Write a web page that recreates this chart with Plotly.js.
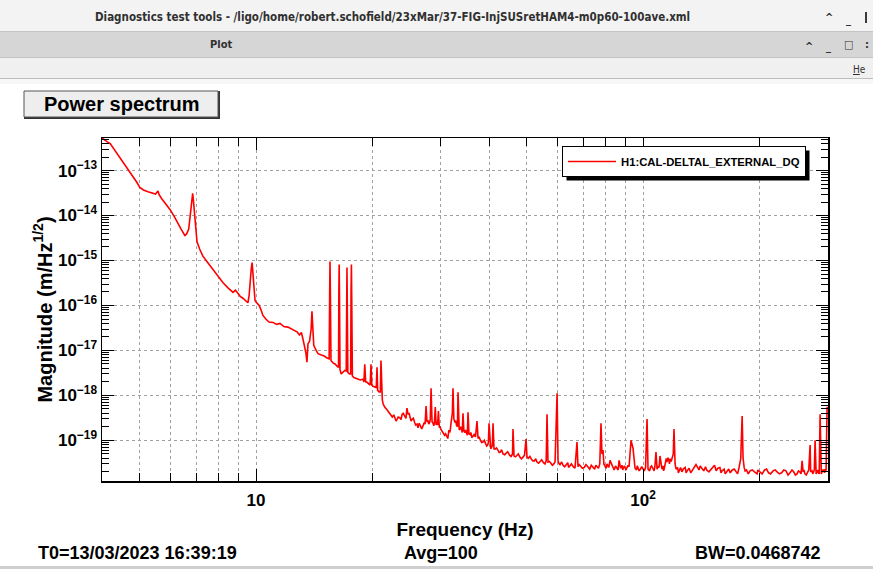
<!DOCTYPE html>
<html><head><meta charset="utf-8">
<script src="https://cdn.plot.ly/plotly-3.0.1.min.js"></script>
<style>html,body{margin:0;padding:0;background:#fff;overflow:hidden}#chart{width:873px;height:569px}</style>
</head><body><div id="chart"></div>
<script>
// ---------------- data ----------------
const traceName = 'H1:CAL-DELTAL_EXTERNAL_DQ';
// main outline of the spectrum (baseline and lines)
const freqHz = [
 4.00,4.05,4.12,4.20,4.30,4.40,4.53,4.65,4.80,4.92,
 5.01,5.12,5.26,5.39,5.50,5.58,5.62,5.70,5.85,6.00,
 6.15,6.29,6.42,6.55,6.62,6.70,6.76,6.82,6.86,6.89,
 6.93,6.97,7.04,7.15,7.29,7.50,7.74,8.00,8.22,8.45,
 8.72,8.85,8.98,9.10,9.25,9.40,9.53,9.60,9.66,9.72,
 9.77,9.82,9.88,9.94,10.0,10.1,10.19,10.30,10.42,10.6,
 10.8,11.06,11.3,11.53,11.8,12.09,12.4,12.76,12.95,13.10,
 13.22,13.35,13.45,13.54,13.62,13.75,13.88,13.95,14.02,14.1,
 14.3,14.46,14.7,15.0,15.26,15.45,15.50,15.53,15.57,15.62,
 15.81,16.0,16.19,16.34,16.37,16.40,16.44,16.48,16.6,16.78,
 16.95,17.10,17.14,17.18,17.22,17.27,17.45,17.56,17.60,17.64,
 17.68,17.74,17.9,18.1,18.34,18.6,18.9,19.0,19.10,19.20,
 19.36,19.55,19.72,19.82,19.92,20.06,20.3,20.45,20.54,20.62,
 20.8,20.95,21.03,21.10,21.2,21.3,21.5,21.8,22.2,22.5,
 22.86,23.13,23.5,23.84,24.2,24.55,24.7,25.0,25.29,25.7,
 26.06,26.21,26.6,27.0,27.34,27.5,27.65,27.83,28.1,28.33,
 28.5,28.67,28.9,29.05,29.2,29.45,29.6,29.75,30.0,30.24,
 30.7,31.15,31.5,31.9,32.15,32.28,32.45,32.66,32.95,33.15,
 33.26,33.4,33.65,34.0,34.26,34.45,34.67,35.0,35.3,35.5,
 35.72,36.3,36.9,37.24,37.47,38.0,38.59,39.2,39.7,40.0,
 40.24,40.6,40.96,41.2,41.46,42.2,42.8,43.47,44.3,45.2,
 46.13,46.41,47.2,48.1,49.0,49.85,50.13,51.5,52.4,53.2,
 54.2,55.3,56.48,56.8,57.8,58.8,59.24,59.96,60.3,61.0,
 62.14,63.4,64.75,66.0,67.5,67.9,69.0,70.5,72.0,74.25,
 76.0,77.3,77.87,78.3,78.8,79.2,79.74,81.0,82.16,83.5,
 85.66,86.7,87.5,89.0,90.9,92.0,93.1,94.2,94.8,95.35,
 97.0,98.5,100.0,101.5,102.4,103.0,104.5,106.0,108.0,108.7,
 110.0,110.6,111.9,113.5,114.8,116.0,117.5,118.8,119.7,120.2,
 121.0,121.7,124.0,127.0,130.0,134.6,138.0,142.0,146.0,151.6,
 156.0,160.0,164.8,170.0,174.0,177.0,178.8,180.3,181.3,182.5,
 185.0,189.0,194.0,200.6,206.0,211.0,216.7,222.0,228.0,234.0,
 239.8,245.0,250.0,254.0,257.6,259.1,262.0,266.0,270.2,271.0,
 273.3,276.0,278.3,279.0,281.6,284.0,286.7,287.5,290.1,293.0,
 296.0,297.1,298.9,300.0
];
const magnitude = [
 5.3e-13,4.8e-13,4.4e-13,4.0e-13,3.0e-13,2.3e-13,1.6e-13,1.15e-13,7.5e-14,5.5e-14,
 4.2e-14,3.7e-14,3.4e-14,3.2e-14,3.0e-14,3.5e-14,2.9e-14,2.4e-14,1.8e-14,1.35e-14,
 9.5e-15,6.5e-15,4.8e-15,3.6e-15,3.9e-15,5.0e-15,9.0e-15,1.8e-14,3.1e-14,2.2e-14,
 1.2e-14,5.0e-15,2.6e-15,1.8e-15,1.25e-15,9.0e-16,6.3e-16,4.3e-16,3.2e-16,2.5e-16,
 1.95e-16,2.2e-16,1.9e-16,1.6e-16,1.45e-16,1.3e-16,1.15e-16,1.7e-16,4.5e-16,6.5e-16,
 9.0e-16,5.0e-16,2.0e-16,1.3e-16,1.2e-16,1.05e-16,1.0e-16,8.0e-17,6.0e-17,5.0e-17,
 4.3e-17,4.2e-17,3.8e-17,4.0e-17,3.4e-17,3.3e-17,2.9e-17,2.6e-17,2.2e-17,2.5e-17,
 1.8e-17,1.2e-17,9.0e-18,5.5e-18,1.4e-17,1.6e-17,3.0e-17,7.4e-17,2.5e-17,1.3e-17,
 1.0e-17,8.5e-18,8.0e-18,7.5e-18,6.8e-18,6.5e-18,2.0e-16,9.5e-16,1.5e-16,6.0e-18,
 5.3e-18,5.0e-18,4.5e-18,4.2e-18,2.0e-16,8.1e-16,1.0e-16,3.8e-18,3.0e-18,3.3e-18,
 3.6e-18,3.5e-18,1.5e-16,7.0e-16,6.0e-17,3.2e-18,3.0e-18,3.0e-18,2.0e-16,8.1e-16,
 1.0e-16,2.7e-18,2.5e-18,2.4e-18,2.3e-18,2.2e-18,2.3e-18,2.0e-18,4.9e-18,2.0e-18,
 1.96e-18,1.8e-18,1.7e-18,4.9e-18,1.7e-18,1.6e-18,1.5e-18,1.5e-18,4.2e-18,1.3e-18,
 1.2e-18,1.2e-18,6.0e-18,1.2e-18,8.0e-19,6.5e-19,5.5e-19,4.8e-19,3.8e-19,3.3e-19,
 3.0e-19,2.9e-19,3.2e-19,3.8e-19,3.5e-19,5.2e-19,3.8e-19,3.3e-19,2.9e-19,2.5e-19,
 2.3e-19,1.9e-19,2.0e-19,2.1e-19,2.3e-19,5.8e-19,2.6e-19,2.7e-19,2.5e-19,1.44e-18,
 2.6e-19,2.4e-19,2.5e-19,5.5e-19,2.2e-19,2.2e-19,4.5e-19,2.0e-19,1.8e-19,1.6e-19,
 1.3e-19,1.2e-19,1.7e-19,2.4e-19,4.0e-19,1.44e-18,3.0e-19,2.5e-19,2.2e-19,2.0e-19,
 1.18e-18,2.0e-19,1.8e-19,1.7e-19,4.0e-19,1.6e-19,1.5e-19,1.45e-19,4.2e-19,1.4e-19,
 1.35e-19,1.25e-19,1.2e-19,2.7e-19,1.1e-19,1.0e-19,9.2e-20,8.5e-20,8.0e-20,2.4e-19,
 7.2e-20,7.0e-20,2.4e-19,6.5e-20,6.4e-20,6.0e-20,5.5e-20,5.0e-20,5.2e-20,4.7e-20,
 1.78e-19,4.5e-20,4.6e-20,4.2e-20,4.3e-20,1.07e-19,4.3e-20,3.8e-20,3.5e-20,3.3e-20,
 3.4e-20,3.2e-20,3.8e-19,3.3e-20,3.1e-20,3.0e-20,3.3e-20,1.12e-18,3.5e-20,2.9e-20,
 2.8e-20,3.0e-20,2.7e-20,2.6e-20,9.2e-20,2.6e-20,2.7e-20,2.5e-20,2.6e-20,2.5e-20,
 2.6e-20,3.0e-20,2.4e-19,5.0e-20,6.1e-20,3.0e-20,2.6e-20,2.8e-20,3.6e-20,2.6e-20,
 2.4e-20,3.6e-20,2.4e-20,2.5e-20,2.4e-20,2.6e-20,1.0e-19,6.7e-20,3.0e-20,2.4e-20,
 2.5e-20,2.3e-20,2.3e-20,2.5e-20,2.97e-19,2.3e-20,2.5e-20,2.4e-20,5.5e-20,2.3e-20,
 2.5e-20,4.5e-20,2.3e-20,2.4e-20,4.0e-20,4.1e-20,3.9e-20,3.9e-20,5.0e-20,1.78e-19,
 3.0e-20,2.3e-20,2.2e-20,2.3e-20,2.1e-20,2.3e-20,2.6e-20,2.4e-20,2.2e-20,2.6e-20,
 2.4e-20,2.1e-20,2.0e-20,2.2e-20,2.0e-20,2.5e-20,3.9e-20,3.5e-19,4.0e-20,2.5e-20,
 2.2e-20,2.1e-20,2.0e-20,2.0e-20,2.2e-20,1.9e-20,2.1e-20,2.0e-20,1.9e-20,2.1e-20,
 1.9e-20,2.0e-20,1.8e-20,2.0e-20,3.5e-20,2.0e-20,1.8e-20,2.0e-20,7.9e-20,2.0e-20,
 2.1e-20,2.0e-20,1.0e-19,2.0e-20,2.0e-20,1.9e-20,3.8e-19,2.1e-20,2.0e-20,2.2e-20,
 2.1e-20,2.2e-20,5.5e-19,5.0e-19
];
const noiseFreqHz = [
 22.0,22.4,22.7,23.0,23.3,23.7,24.0,24.4,24.85,25.15,
 25.5,25.85,26.4,26.8,27.2,27.95,28.2,28.8,29.3,29.9,
 30.4,30.9,31.3,31.7,32.8,33.5,33.8,34.1,34.8,35.15,
 35.9,36.1,36.6,37.7,38.3,38.9,39.45,39.85,40.4,40.8,
 41.8,42.5,43.1,43.9,44.7,45.6,46.0,46.8,47.6,48.5,
 49.4,50.5,51.0,51.9,52.8,53.7,54.7,55.8,56.2,57.3,
 58.3,60.6,61.6,62.7,63.9,64.2,65.3,66.7,68.4,69.7,
 71.2,72.8,73.5,75.0,75.5,76.7,80.3,80.7,81.6,82.8,
 84.2,84.9,86.2,88.2,88.6,89.6,90.3,91.5,96.2,96.6,
 97.7,99.2,100.7,104.0,105.2,106.8,107.3,109.3,112.6,113.0,
 115.3,116.7,117.0,118.2,122.8,123.4,125.0,126.0,128.5,129.2,
 131.5,132.8,136.0,137.0,139.5,140.5,143.5,145.0,148.0,150.0,
 153.0,154.5,158.0,159.0,162.0,163.0,166.5,168.0,172.0,175.5,
 183.5,187.0,191.5,197.0,198.0,203.0,208.5,213.5,219.5,225.0,
 231.0,237.0,242.5,247.5,252.0,256.0,260.5,264.0,268.0,274.5,
 277.0,280.0,282.8,285.2,288.8,291.5,294.5,295.3
];
const noiseMagnitude = [
 4.3e-19,3.4e-19,3.7e-19,2.7e-19,3.3e-19,2.9e-19,4.0e-19,3.1e-19,4.1e-19,2.7e-19,
 3.1e-19,2.2e-19,2.4e-19,1.8e-19,2.5e-19,2.3e-19,3.0e-19,2.1e-19,2.6e-19,2.0e-19,
 1.5e-19,1.4e-19,1.1e-19,1.5e-19,2.8e-19,1.7e-19,2.0e-19,1.5e-19,1.7e-19,1.3e-19,
 1.5e-19,1.15e-19,1.35e-19,1.2e-19,9.0e-20,1.0e-19,7.5e-20,9.0e-20,6.5e-20,7.8e-20,
 6.8e-20,5.4e-20,6.2e-20,4.8e-20,5.6e-20,4.4e-20,5.0e-20,4.3e-20,5.0e-20,3.9e-20,
 4.7e-20,4.0e-20,4.4e-20,3.5e-20,3.9e-20,3.1e-20,3.7e-20,3.0e-20,3.5e-20,3.4e-20,
 2.8e-20,3.1e-20,3.3e-20,2.6e-20,3.2e-20,2.5e-20,3.0e-20,2.4e-20,2.9e-20,2.4e-20,
 2.9e-20,2.3e-20,2.8e-20,2.3e-20,2.8e-20,2.4e-20,2.4e-20,3.0e-20,2.5e-20,2.9e-20,
 2.2e-20,2.7e-20,2.2e-20,2.8e-20,2.2e-20,2.7e-20,2.2e-20,2.8e-20,2.2e-20,2.7e-20,
 2.1e-20,2.6e-20,2.1e-20,2.1e-20,2.7e-20,2.1e-20,2.6e-20,2.6e-20,2.7e-20,2.1e-20,
 3.3e-20,3.6e-20,3.0e-20,3.4e-20,2.5e-20,1.9e-20,2.5e-20,2.0e-20,2.5e-20,1.9e-20,
 2.4e-20,1.9e-20,2.5e-20,2.9e-20,2.2e-20,2.7e-20,2.1e-20,2.6e-20,2.0e-20,2.3e-20,
 2.8e-20,2.1e-20,2.5e-20,1.9e-20,2.3e-20,1.8e-20,2.3e-20,1.9e-20,2.3e-20,1.8e-20,
 2.1e-20,1.8e-20,2.2e-20,1.8e-20,2.2e-20,1.8e-20,2.3e-20,1.8e-20,2.2e-20,1.8e-20,
 2.2e-20,1.7e-20,2.2e-20,1.7e-20,2.1e-20,1.8e-20,2.2e-20,1.7e-20,2.2e-20,1.8e-20,
 2.2e-20,1.8e-20,2.2e-20,1.8e-20,1.8e-20,2.2e-20,1.9e-20,2.3e-20
];
const xTickVals = [10, 100];
const xTickText = ['10', '10<sup>2</sup>'];
const xMinorVals = [5,6,7,8,9,20,30,40,50,60,70,80,90,200,300];
const yTickVals = [1e-19,1e-18,1e-17,1e-16,1e-15,1e-14,1e-13];
const yTickText = ['10<sup>−19</sup>','10<sup>−18</sup>','10<sup>−17</sup>','10<sup>−16</sup>','10<sup>−15</sup>','10<sup>−14</sup>','10<sup>−13</sup>'];
const yDecades = [1e-20,1e-19,1e-18,1e-17,1e-16,1e-15,1e-14,1e-13];
const yMantissas = [2,3,4,5,6,7,8,9];
const windowTitle = 'Diagnostics test tools - /ligo/home/robert.schofield/23xMar/37-FIG-InjSUSretHAM4-m0p60-100ave.xml';
const footerLeft = 'T0=13/03/2023 16:39:19';
const footerMid = 'Avg=100';
const footerRight = 'BW=0.0468742';

// merge the two point sets in frequency order
const pts = freqHz.map((f, i) => [f, magnitude[i]])
  .concat(noiseFreqHz.map((f, i) => [f, noiseMagnitude[i]]))
  .sort((a, b) => a[0] - b[0]);

// ---------------- layout helpers ----------------
const L = 102, R = 828, T = 138, B = 481;
const PX = x => (x - L) / (R - L);
const PY = y => (B - y) / (B - T);
const yMinorVals = [];
yDecades.forEach(d => yMantissas.forEach(m => yMinorVals.push(m * d)));

const FONT = 'Liberation Sans, Arial, Helvetica, sans-serif';
const COND = 'DejaVu Sans Condensed, DejaVu Sans, sans-serif';
const chromeFont = s => ({family:COND, size:s, color:'#303030', weight:'bold'});

const rect = (x0, y0, x1, y1, fill, line, lw) => ({type:'rect', xref:'paper', yref:'paper',
  x0:PX(x0), x1:PX(x1), y0:PY(y0), y1:PY(y1), fillcolor:fill,
  line:{color:line || fill, width: lw === undefined ? 0 : lw}, layer:'below'});
const hline = (x0, x1, y, color, w) => ({type:'line', xref:'paper', yref:'paper',
  x0:PX(x0), x1:PX(x1), y0:PY(y), y1:PY(y), line:{color:color, width:w}, layer:'below'});
const txt = (x, y, text, size, opts) => Object.assign({xref:'paper', yref:'paper', x:PX(x), y:PY(y),
  text:text, showarrow:false, xanchor:'center', yanchor:'middle',
  font:{family:FONT, size:size, color:'#000', weight:'bold'}}, opts || {});

const shapes = [
  rect(0, 0, 873, 31, '#f3f3f3'),
  hline(0, 873, 31.5, '#c4c4c4', 1),
  rect(0, 32, 873, 57, '#d6d6d6'),
  hline(0, 873, 57.5, '#c4c4c4', 1),
  rect(0, 58, 873, 78, '#f0f0f0'),
  hline(0, 873, 78.5, '#bdbdbd', 1),
  rect(0, 79, 873, 84, '#f7f7f7'),
  // "Power spectrum" button
  rect(24, 91, 220, 119, '#333333'),
  rect(24, 91, 218, 117, '#eeeeee', '#555555', 1),
  // legend drop shadow (re-fitted to the drawn legend box after plotting)
  {type:'rect', xref:'paper', yref:'paper', x0:PX(566), x1:PX(812), y0:PY(150), y1:PY(176),
   fillcolor:'#000', line:{width:0}, layer:'above'},
  hline(0, 873, 567.5, '#cfcfcf', 3),
  // clipped window-control glyph at the right edge of the title bar
  rect(865, 12, 867, 23, '#3a3a3a')
];
const SHADOW = 9;

const annotations = [
  txt(392, 17, windowTitle, 11.5, {font:chromeFont(11.5)}),
  txt(829, 18, '^', 11, {font:chromeFont(11)}),
  txt(848, 19, '_', 11, {font:chromeFont(11)}),
  txt(221, 45, 'Plot', 11, {font:chromeFont(11)}),
  txt(809, 46, '^', 11, {font:chromeFont(11)}),
  txt(828, 47, '_', 11, {font:chromeFont(11)}),
  txt(848, 45, '□', 11, {font:chromeFont(11)}),
  txt(867, 45, ':', 11, {font:chromeFont(11)}),
  txt(851, 70, '<u>H</u>e', 10, {xanchor:'left', font:{family:COND, size:10, color:'#303030'}}),
  txt(122, 104, 'Power spectrum', 20),
  txt(36, 553, footerLeft, 18, {xanchor:'left'}),
  txt(441, 553, footerMid, 18),
  txt(823, 553, footerRight, 18, {xanchor:'right'})
];

const data = [{
  x: pts.map(p => p[0]), y: pts.map(p => p[1]), type:'scatter', mode:'lines', name: traceName,
  line:{color:'#ff0000', width:1.6}
}];

const GRID = '#a0a0a0';
const axisCommon = {
  showline:true, linecolor:'#000', linewidth:1.5, mirror:'allticks',
  ticks:'inside', tickcolor:'#000', tickwidth:1,
  showgrid:true, gridcolor:GRID, gridwidth:1, griddash:'dot',
  zeroline:false, tickfont:{family:FONT, size:17, color:'#000', weight:'bold'}
};

const layout = {
  width:873, height:569,
  margin:{l:L, r:873-R, t:T, b:569-B, pad:0},
  paper_bgcolor:'#ffffff', plot_bgcolor:'#ffffff',
  showlegend:true,
  legend:{x:PX(562), y:PY(146), xanchor:'left', yanchor:'top', bgcolor:'#ffffff',
    bordercolor:'#000', borderwidth:1, itemwidth:48,
    font:{family:FONT, size:11.3, color:'#000', weight:'bold'}},
  xaxis: Object.assign({}, axisCommon, {
    type:'log', range:[Math.log10(4), Math.log10(300.5)],
    tickmode:'array', tickvals:xTickVals, ticktext:xTickText, ticklen:12, ticklabelstandoff:3,
    minor:{tickmode:'array', tickvals:xMinorVals, ticks:'inside', ticklen:8, tickcolor:'#000',
      showgrid:true, gridcolor:GRID, gridwidth:1, griddash:'dot'},
    title:{text:'Frequency (Hz)', font:{family:FONT, size:19, color:'#000', weight:'bold'}, standoff:14}
  }),
  yaxis: Object.assign({}, axisCommon, {
    type:'log', range:[-19.903, -12.2757],
    tickmode:'array', tickvals:yTickVals, ticktext:yTickText, ticklen:12,
    minor:{tickmode:'array', tickvals:yMinorVals, ticks:'inside', ticklen:7, tickcolor:'#000', showgrid:false},
    title:{text:'Magnitude (m/Hz<sup>1/2</sup>)', font:{family:FONT, size:20, color:'#000', weight:'bold'}, standoff:0}
  }),
  shapes: shapes,
  annotations: annotations
};

Plotly.newPlot('chart', data, layout, {displayModeBar:false, staticPlot:true}).then(gd => {
  const bg = gd.querySelector('.legend .bg');
  if (!bg) return;
  const box = bg.getBoundingClientRect();
  const host = gd.getBoundingClientRect();
  const x0 = box.left - host.left, y0 = box.top - host.top;
  const x1 = x0 + box.width, y1 = y0 + box.height;
  const upd = {};
  upd['shapes[' + SHADOW + '].x0'] = PX(x0 + 4);
  upd['shapes[' + SHADOW + '].x1'] = PX(x1 + 4);
  upd['shapes[' + SHADOW + '].y0'] = PY(y0 + 4);
  upd['shapes[' + SHADOW + '].y1'] = PY(y1 + 4);
  return Plotly.relayout(gd, upd);
});
</script></body></html>
